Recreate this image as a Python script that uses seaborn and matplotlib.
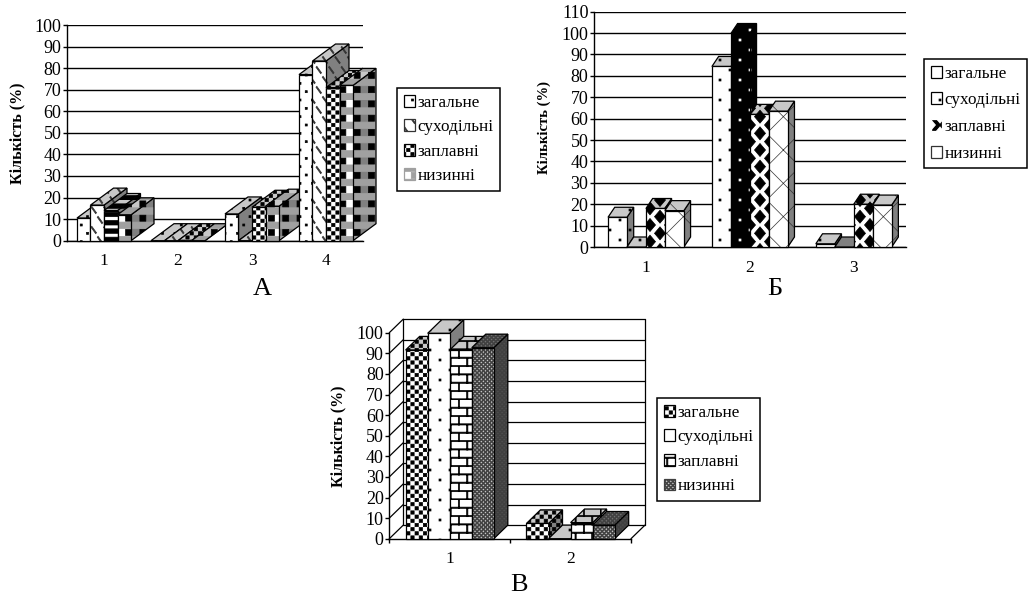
import warnings
import numpy as np
import pandas as pd
import matplotlib
matplotlib.use("Agg")
import matplotlib.pyplot as plt
import matplotlib.hatch as mhatch
from matplotlib.patches import Patch, Polygon
from matplotlib.path import Path
import seaborn as sns

warnings.filterwarnings("ignore")

series_names = ["загальне", "суходільні", "заплавні", "низинні"]

cats_a = ["1", "2", "3", "4"]
zag_a = [10.5, 0, 12.4, 77]
suh_a = [16.5, 0, 0, 83.3]
zap_a = [14, 0, 15.5, 71]
niz_a = [12, 0, 16, 72]

cats_b = ["1", "2", "3"]
zag_b = [13.9, 84.4, 1.5]
suh_b = [0, 99.8, 0]
zap_b = [18, 62, 20]
niz_b = [17, 63.5, 19.6]

cats_c = ["1", "2"]
zag_c = [91.6, 7.4]
suh_c = [99.7, 0]
zap_c = [91.6, 7.8]
niz_c = [92.7, 6.6]

W, H = 1035, 599


# hatch tile is 100 px at this dpi, so all sizes below are in tile fractions
def poly_hatch(char, polys):
    verts = []
    codes = []
    for p in polys:
        verts += list(p) + [p[0]]
        codes += [Path.MOVETO] + [Path.LINETO] * (len(p) - 1) + [Path.CLOSEPOLY]
    verts = np.array(verts, dtype=float)
    codes = np.array(codes, dtype=Path.code_type)

    class PolyHatch(mhatch.HatchPatternBase):
        def __init__(self, hatch, density):
            self.num_vertices = len(verts) if char in hatch else 0

        def set_vertices_and_codes(self, vertices, out_codes):
            vertices[:] = verts
            out_codes[:] = codes

    mhatch._hatch_types.append(PolyHatch)


def grid_polys(nx, ny, shape, stagger=True, shift=0.0):
    polys = []
    for r in range(-1, ny + 2):
        for c in range(-1, nx + 2):
            cx = (c + (0.5 if stagger and r % 2 else 0)) / nx
            cy = r / ny + shift
            polys.append([(cx + a, cy + b) for a, b in shape])
    return polys


def rect(w, h):
    return [(-w / 2, -h / 2), (w / 2, -h / 2), (w / 2, h / 2), (-w / 2, h / 2)]


diamond = [(-0.055, 0), (0, -0.065), (0.055, 0), (0, 0.065)]
dash = [(-0.028, 0.028), (-0.019, 0.037), (0.028, -0.028), (0.019, -0.037)]

poly_hatch("q", grid_polys(8, 12, rect(0.02, 0.02)))
poly_hatch("r", grid_polys(5, 10, rect(0.02, 0.02)))
poly_hatch("c", grid_polys(12, 24, rect(0.033, 0.033)))
poly_hatch("f", grid_polys(24, 48, rect(0.02, 0.02)))
poly_hatch("d", grid_polys(5, 12, diamond))
poly_hatch("s", grid_polys(8, 10, dash))
poly_hatch("h", [[(0, r / 12), (1, r / 12), (1, r / 12 + 0.045), (0, r / 12 + 0.045)] for r in range(12)])
poly_hatch("g", [[(0, r / 7), (1, r / 7), (1, r / 7 + 0.065), (0, r / 7 + 0.065)] for r in range(7)])
poly_hatch("k", grid_polys(7, 7, rect(0.06, 0.06), stagger=False, shift=0.1039))
brick = [[(0, r / 12), (1, r / 12), (1, r / 12 + 0.012), (0, r / 12 + 0.012)] for r in range(12)]
for r in range(12):
    for c in range(6):
        x = (c + (0.5 if r % 2 else 0)) / 6
        brick.append([(x, r / 12), (x + 0.012, r / 12), (x + 0.012, (r + 1) / 12), (x, (r + 1) / 12)])
poly_hatch("b", brick)

sns.set_theme(style="white", rc={"axes.edgecolor": "black", "axes.linewidth": 1.0,
                                 "xtick.color": "black", "ytick.color": "black",
                                 "text.color": "black", "axes.labelcolor": "black",
                                 "hatch.linewidth": 0.5})
plt.rcParams["font.family"] = ["Liberation Serif", "DejaVu Serif"]


def style(front="white", top="#c8c8c8", side="#808080", layers=()):
    return {"front": front, "top": top, "side": side, "layers": list(layers)}


dots = style(layers=[("q", "black")])
slashes = style(layers=[("s", "#333333")])
checks = style(layers=[("c", "black")])
plaid = style(layers=[("g", "#a0a0a0"), ("k", "black")])
stripes = style(layers=[("h", "black")])
wide_dots = style(layers=[("r", "black")])
black_dots = style(front="black", top="black", side="black", layers=[("r", "white")])
diamonds = style(layers=[("d", "black")])
crosses = style(layers=[("x", "#333333")])
fine_gray = style(front="#c4c4c4", top="#707070", side="#505050", layers=[("f", "#404040")])
bricks = style(layers=[("b", "black")])

fig = plt.figure(figsize=(W / 100, H / 100), dpi=100)


def add_axes_px(x0, x1, y_top, y_bottom):
    return fig.add_axes([x0 / W, 1 - y_bottom / H, (x1 - x0) / W, (y_bottom - y_top) / H])


def face(ax, pts, st_fc, layers, z):
    ax.add_patch(Polygon(pts, closed=True, facecolor=st_fc, edgecolor="none", lw=0, zorder=z, clip_on=False))
    for i, (hatch, col) in enumerate(layers):
        ax.add_patch(Polygon(pts, closed=True, fill=False, edgecolor=col, hatch=hatch, lw=0,
                             zorder=z + 0.0001 * (i + 1), clip_on=False))
    ax.add_patch(Polygon(pts, closed=True, fill=False, edgecolor="black", lw=0.9,
                         zorder=z + 0.0005, clip_on=False))


def draw_panel(box, cats, values, styles, overrides, depth, ymax, legend_box, legend_styles,
               ylabel_xy, ylabel_size, letter, letter_xy, wall=False, row_gap=0.5):
    ax = add_axes_px(*box)
    df = pd.DataFrame({"cat": np.tile(cats, 4),
                       "series": np.repeat(series_names, len(cats)),
                       "val": np.concatenate(values)})
    sns.barplot(data=df, x="cat", y="val", hue="series", order=cats, hue_order=series_names,
                palette=["white"] * 4, width=0.73, gap=0, legend=False, ax=ax, saturation=1)
    ax.set_ylim(0, ymax)
    ax.set_xlim(-0.5, len(cats) - 0.5)
    ticks = np.arange(0, ymax + 1, 10)
    ax.set_yticks(ticks)
    ax.set_xlabel("")
    ax.set_ylabel("Кількість (%)", fontweight="bold", fontsize=ylabel_size)
    ax.yaxis.set_label_coords((ylabel_xy[0] + 9) / W, 1 - ylabel_xy[1] / H, transform=fig.transFigure)
    ax.tick_params(axis="y", labelsize=13, length=3, width=1, pad=1, left=True)
    ax.tick_params(axis="x", labelsize=12.5, length=0, pad=9)
    sns.despine(ax=ax)

    dx = depth[0] / (box[1] - box[0]) * len(cats)
    dy = depth[1] / (box[3] - box[2]) * ymax

    if wall:
        x0, x1 = ax.get_xlim()
        for t in ticks:
            ax.plot([x0, x0 + dx], [t, t + dy], color="black", lw=0.9, clip_on=False, zorder=1)
            ax.plot([x0 + dx, x1 + dx], [t + dy, t + dy], color="black", lw=0.9, clip_on=False, zorder=1)
        ax.plot([x0 + dx, x0 + dx], [dy, ymax + dy], color="black", lw=0.9, clip_on=False, zorder=1)
        ax.plot([x1 + dx, x1 + dx], [dy, ymax + dy], color="black", lw=0.9, clip_on=False, zorder=1)
        ax.plot([x1, x1 + dx], [0, dy], color="black", lw=0.9, clip_on=False, zorder=1)
        ax.set_xticks(np.arange(len(cats) + 1) - 0.5, minor=True)
        ax.tick_params(axis="x", which="minor", length=3, width=1, bottom=True)
    else:
        ax.yaxis.grid(True, color="black", lw=1)
        ax.set_axisbelow(True)

    for s_i, container in enumerate(ax.containers):
        for c_i, bar in enumerate(container):
            st = overrides.get((c_i, s_i), styles[s_i])
            x, w, h = bar.get_x(), bar.get_width(), bar.get_height()
            z = 3 + (c_i * 4 + s_i) * 0.01
            bar.set_visible(False)
            face(ax, [(x + w, 0), (x + w + dx, dy), (x + w + dx, h + dy), (x + w, h)],
                 st["side"], st["layers"], z)
            face(ax, [(x, h), (x + w, h), (x + w + dx, h + dy), (x + dx, h + dy)],
                 st["top"], st["layers"], z + 0.001)
            if h > 0:
                face(ax, [(x, 0), (x + w, 0), (x + w, h), (x, h)],
                     st["front"], st["layers"], z + 0.002)

    handles = []
    for name, st in zip(series_names, legend_styles):
        hatch = "".join(l[0] for l in st["layers"])
        col = st["layers"][0][1] if st["layers"] else "black"
        handles.append(Patch(facecolor=st["front"], edgecolor=col, hatch=hatch, lw=0.9, label=name))
    leg = ax.legend(handles=handles, loc="upper left", frameon=True,
                    bbox_to_anchor=(legend_box[0] / W, 1 - legend_box[1] / H),
                    bbox_transform=fig.transFigure, borderaxespad=0, fancybox=False, framealpha=1,
                    edgecolor="black", fontsize=12.3, handlelength=0.65, handleheight=0.7,
                    handletextpad=0.15, labelspacing=row_gap, borderpad=0.4)
    leg.get_frame().set_linewidth(1.1)
    leg.set_zorder(10)
    fig.text(letter_xy[0] / W, 1 - letter_xy[1] / H, letter, fontsize=19, ha="center", va="center")
    return ax


draw_panel((67, 363, 25, 240.7), cats_a, [zag_a, suh_a, zap_a, niz_a],
           [dots, slashes, checks, plaid], {(0, 2): stripes}, (23, 17), 100,
           (397, 88), [dots, slashes, checks, plaid], (17, 133), 11.5, "А", (262, 289))

draw_panel((594, 905.7, 11.7, 247), cats_b, [zag_b, suh_b, zap_b, niz_b],
           [wide_dots, wide_dots, diamonds, crosses],
           {(1, 1): black_dots, (2, 1): style(top="#808080")}, (6.7, 10), 110,
           (924, 59), [style(), wide_dots, style(front="black", layers=[("d", "white")]), crosses],
           (542, 128), 10.5, "Б", (775, 289), row_gap=0.62)

draw_panel((389.3, 631, 332.7, 538.7), cats_c, [zag_c, suh_c, zap_c, niz_c],
           [checks, wide_dots, bricks, fine_gray], {}, (14, 13.6), 100,
           (657, 398), [checks, style(), bricks, fine_gray], (338, 436), 11.5, "В", (519, 585),
           wall=True)

fig.savefig("out.png", dpi=100)
